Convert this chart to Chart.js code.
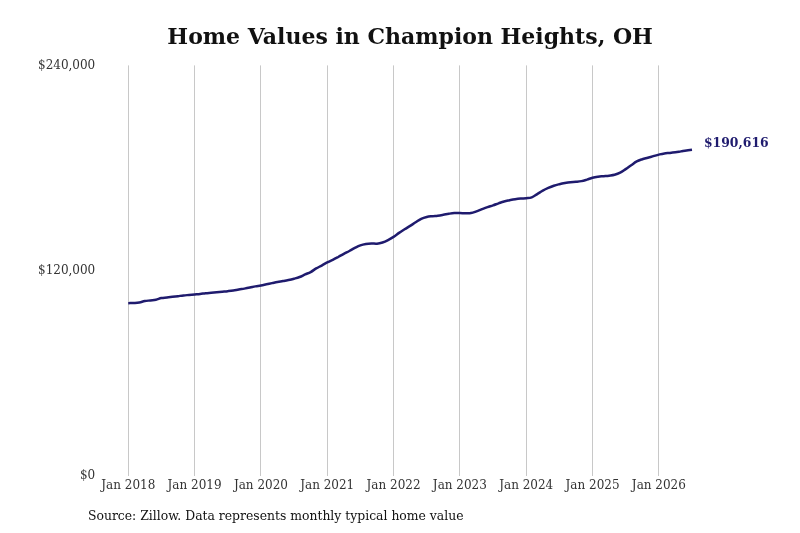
<!DOCTYPE html>
<html>
<head>
<meta charset="utf-8">
<style>
  html, body { margin: 0; padding: 0; background: #fff; }
  #wrap { width: 800px; height: 533px; }
</style>
</head>
<body>
<div id="wrap"><canvas id="home-chart"></canvas></div>

<script src="https://cdn.jsdelivr.net/npm/chart.js"></script>
<script>
// categories: one per month, Jan 2018 .. Jul 2026
const monthNames = ['Jan', 'Feb', 'Mar', 'Apr', 'May', 'Jun', 'Jul', 'Aug', 'Sep', 'Oct', 'Nov', 'Dec'];
const years = [2018, 2019, 2020, 2021, 2022, 2023, 2024, 2025, 2026];
const lastMonthIndex = 6; // Jul 2026

// typical home value (monthly)
const homeValues = [
    100900, 101000, 101300, 102100, 102500, 102900, 103900, 104200, 104600, 105000, 105400, 105700,
    106000, 106300, 106700, 107000, 107300, 107600, 107900, 108300, 108900, 109400, 110000, 110700,
    111200, 111900, 112600, 113300, 113800, 114400, 115200, 116200, 117700, 119100, 121200, 122900,
    124700, 126200, 127900, 129700, 131400, 133200, 134700, 135500, 135800, 135700, 136400, 137800,
    139700, 142000, 144100, 146100, 148200, 150200, 151300, 151800, 152100, 152600, 153200, 153600,
    153600, 153500, 153600, 154600, 155900, 157100, 158100, 159300, 160400, 161100, 161700, 162100,
    162300, 162800, 164700, 166700, 168300, 169600, 170500, 171200, 171700, 171900, 172300, 173200,
    174300, 174900, 175200, 175500, 176000, 177200, 179300, 181600, 183800, 185100, 186000, 186900,
    187800, 188500, 188800, 189200, 189700, 190200, 190616
];

const yTicks = [0, 120000, 240000];

const monthLabels = [];
years.forEach(function(year, i) {
    const count = i === years.length - 1 ? lastMonthIndex + 1 : 12;
    for (let m = 0; m < count; m++) {
        monthLabels.push(monthNames[m] + ' ' + year);
    }
});

const lineColor = '#1f1b6e';
const serif = "'DejaVu Serif', serif";

function money(v) {
    return '$' + v.toLocaleString('en-US');
}

// last value label + source line
const extras = {
    id: 'extras',
    afterDatasetsDraw(chart) {
        const ctx = chart.ctx;
        const meta = chart.getDatasetMeta(0);
        const last = meta.data[meta.data.length - 1];
        ctx.save();
        ctx.font = 'bold 12.4px ' + serif;
        ctx.fillStyle = lineColor;
        ctx.textAlign = 'left';
        ctx.textBaseline = 'middle';
        ctx.fillText(money(homeValues[homeValues.length - 1]), last.x + 12, last.y - 6);

        ctx.font = '12.4px ' + serif;
        ctx.fillStyle = '#111';
        ctx.fillText('Source: Zillow. Data represents monthly typical home value', 88, 517);
        ctx.restore();
    }
};

const config = {
    type: 'line',
    data: {
        labels: monthLabels,
        datasets: [{
            data: homeValues,
            borderColor: lineColor,
            borderWidth: 2.5,
            pointRadius: 0,
            tension: 0.4,
            fill: false,
        }]
    },
    options: {
        responsive: true,
        maintainAspectRatio: false,
        animation: false,
        layout: {
            padding: { left: 5, right: 108, top: 10, bottom: 37 }
        },
        plugins: {
            legend: { display: false },
            tooltip: { enabled: false },
            title: {
                display: true,
                text: 'Home Values in Champion Heights, OH',
                fullSize: false,
                color: '#111',
                font: { family: serif, size: 22, weight: 'bold' },
                padding: { top: 15, bottom: 14 }
            }
        },
        scales: {
            x: {
                offset: false,
                border: { display: false },
                grid: {
                    drawTicks: false,
                    color: function(c) {
                        return c.index % 12 === 0 ? '#c8c8c8' : 'rgba(0,0,0,0)';
                    }
                },
                ticks: {
                    autoSkip: false,
                    maxRotation: 0,
                    minRotation: 0,
                    padding: 3,
                    color: '#333',
                    font: { family: serif, size: 12 },
                    callback: function(value, index) {
                        return index % 12 === 0 ? monthLabels[index] : '';
                    }
                }
            },
            y: {
                min: yTicks[0],
                max: yTicks[yTicks.length - 1],
                border: { display: false },
                grid: { display: false, drawTicks: false },
                afterBuildTicks: function(axis) {
                    axis.ticks = yTicks.map(function(v) { return { value: v }; });
                },
                ticks: {
                    padding: 33,
                    color: '#333',
                    font: { family: serif, size: 12 },
                    callback: function(value) { return money(value); }
                }
            }
        }
    },
    plugins: [extras]
};

new Chart(document.getElementById('home-chart').getContext('2d'), config);
</script>
</body>
</html>
